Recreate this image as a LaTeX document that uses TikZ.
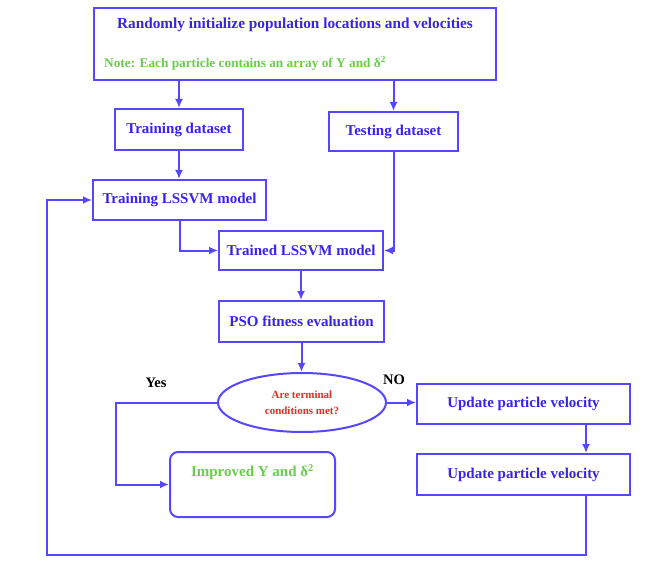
\documentclass[tikz,border=0pt]{standalone}
\usepackage{fontspec}
\setmainfont{Liberation Serif}
\usetikzlibrary{arrows.meta,shapes.geometric}
\definecolor{boxblue}{RGB}{85,70,255}
\definecolor{txtblue}{RGB}{55,35,235}
\definecolor{notegreen}{RGB}{105,205,75}
\definecolor{condred}{RGB}{240,40,40}

\begin{document}
\begin{tikzpicture}[x=1pt,y=-1pt,
  box/.style={draw=boxblue,line width=2pt,inner sep=0pt,font=\bfseries\fontsize{15}{17}\selectfont,text=txtblue},
  arr/.style={draw=boxblue,line width=2pt,-{Latex[length=9pt,width=8pt]}},
  lbl/.style={font=\bfseries\fontsize{14.5}{16}\selectfont}]
\useasboundingbox (0,0) rectangle (651,567);
\node[box,minimum width=402pt,minimum height=72pt] (init) at (295,44) {};
\node[font=\bfseries\fontsize{15.3}{17}\selectfont,text=txtblue] (initT) at (295,25) {Randomly initialize population locations and velocities};
\node[font=\bfseries\fontsize{13.3}{15}\selectfont,text=notegreen,anchor=west,inner sep=0pt] (initN) at (104,63) {Note: Each particle contains an array of Υ and δ\textsuperscript{2}};
\node[box,minimum width=128pt,minimum height=41pt] (train) at (179,129.5) {Training dataset};
\node[box,minimum width=129pt,minimum height=39pt] (test) at (393.5,131.5) {Testing dataset};
\node[box,minimum width=173pt,minimum height=40pt] (lssvm) at (179.5,200) {Training LSSVM model};
\node[box,minimum width=164pt,minimum height=39pt] (trained) at (301,250.5) {Trained LSSVM model};
\node[box,minimum width=165pt,minimum height=41pt] (pso) at (301.5,321.5) {PSO fitness evaluation};
\node[box,ellipse,minimum width=168pt,minimum height=59pt,align=center,text=condred,font=\bfseries\fontsize{11}{16}\selectfont] (cond) at (302,402.5) {Are terminal\\conditions met?};
\node[box,minimum width=213pt,minimum height=40pt] (upd1) at (523.5,403.5) {Update particle velocity};
\node[box,minimum width=213pt,minimum height=41pt] (upd2) at (523.5,474.5) {Update particle velocity};
\node[box,rounded corners=8pt,minimum width=165pt,minimum height=65pt] (improved) at (252.5,484.5) {};
\node[text=notegreen,font=\bfseries\fontsize{15}{17}\selectfont] (improvedT) at (252.5,472) {Improved Υ and δ\textsuperscript{2}};
\node[lbl] (yes) at (156,383) {Yes};
\node[lbl] (no) at (394,380) {NO};
\coordinate (loopc) at (47,555);
\draw[arr] (init.south -| train) -- (train);
\draw[arr] (init.south -| test) -- (test);
\draw[arr] (train.south) -- (train.south |- lssvm.north);
\draw[arr] (lssvm.south) |- (trained.west);
\draw[arr] (test.south) |- (trained.east);
\draw[arr] (trained.south) -- (trained.south |- pso.north);
\draw[arr] (pso.south) -- (pso.south |- cond.north);
\draw[arr] (cond.west) -- ++(-101,0) |- (improved.west);
\draw[arr] (cond.east) -- (cond.east -| upd1.west);
\draw[arr] ([xshift=62.5pt]upd1.south) -- ([xshift=62.5pt]upd2.north);
\draw[arr] ([xshift=62.5pt]upd2.south) |- (loopc) |- (lssvm.west);
\end{tikzpicture}
\end{document}
